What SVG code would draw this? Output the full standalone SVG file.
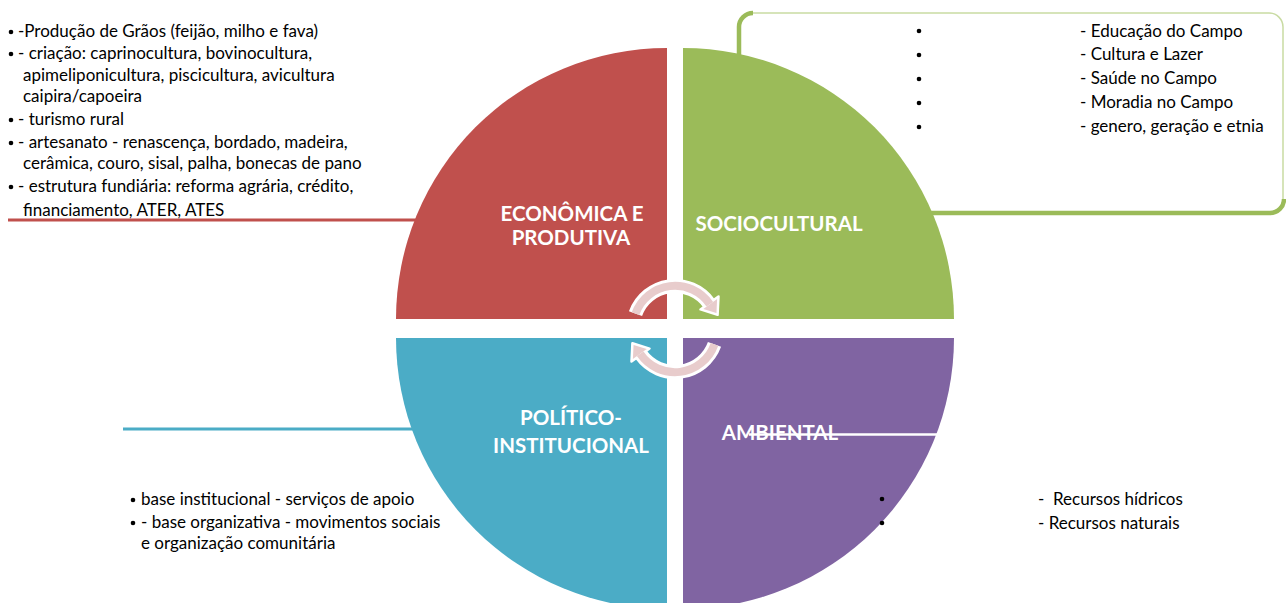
<svg xmlns="http://www.w3.org/2000/svg" width="1286" height="603" viewBox="0 0 1286 603">
<style>
.t{font-family:Lato,"Liberation Sans",sans-serif;font-size:17px;fill:#000}
.lbl{font-family:Lato,"Liberation Sans",sans-serif;font-size:20.5px;font-weight:bold;fill:#fff}
.dot{fill:#000}
</style>
<rect width="1286" height="603" fill="#fff"/>
<g id="connectors">
<line x1="8" y1="220" x2="420" y2="220" stroke="#C0504D" stroke-width="3"/>
<line x1="123" y1="429" x2="420" y2="429" stroke="#4BACC6" stroke-width="3"/>
<rect x="739" y="13" width="544" height="200" rx="14" fill="none" stroke="#C9DBA3" stroke-width="1.5"/>
<path d="M739 60 L739 27 A14 14 0 0 1 753 13" fill="none" stroke="#9BBB59" stroke-width="4.5"/>
<path d="M920 213 L1270 213 A14 14 0 0 0 1284 199" fill="none" stroke="#9BBB59" stroke-width="4.5"/>
</g>
<g id="economica">
<path d="M667 319 L396 319 A271 271 0 0 1 667 48 Z" fill="#C0504D"/>
<text class="lbl" x="572" y="221" text-anchor="middle">ECONÔMICA E</text>
<text class="lbl" x="571" y="245" text-anchor="middle">PRODUTIVA</text>
</g>
<g id="sociocultural">
<path d="M683 319 L683 48 A271 271 0 0 1 954 319 Z" fill="#9BBB59"/>
<text class="lbl" x="779" y="231" text-anchor="middle">SOCIOCULTURAL</text>
</g>
<g id="politico">
<path d="M667 338 L667 609 A271 271 0 0 1 396 338 Z" fill="#4BACC6"/>
<text class="lbl" x="571" y="425" text-anchor="middle">POLÍTICO-</text>
<text class="lbl" x="571" y="453" text-anchor="middle">INSTITUCIONAL</text>
</g>
<g id="ambiental">
<path d="M683 338 L954 338 A271 271 0 0 1 683 609 Z" fill="#8064A2"/>
<text class="lbl" x="780" y="440" text-anchor="middle">AMBIENTAL</text>
<line x1="749" y1="434.5" x2="940" y2="434.5" stroke="#fff" stroke-width="2.5"/>
</g>
<g id="cycle-arrows">
<g id="arrow-top">
<path d="M635.5 313.6 A42 42 0 0 1 709 303.3" fill="none" stroke="#fff" stroke-width="14"/>
<polygon points="718.5,296.4 700.5,309.4 717.6,314.8" fill="#E8CCCC" stroke="#fff" stroke-width="2.5" stroke-linejoin="round"/>
<path d="M635.5 313.6 A42 42 0 0 1 709.8 304.2" fill="none" stroke="#E8CCCC" stroke-width="8"/>
</g>
<g id="arrow-bottom" transform="rotate(180 675 329)">
<path d="M635.5 313.6 A42 42 0 0 1 709 303.3" fill="none" stroke="#fff" stroke-width="14"/>
<polygon points="718.5,296.4 700.5,309.4 717.6,314.8" fill="#E8CCCC" stroke="#fff" stroke-width="2.5" stroke-linejoin="round"/>
<path d="M635.5 313.6 A42 42 0 0 1 709.8 304.2" fill="none" stroke="#E8CCCC" stroke-width="8"/>
</g>
</g>
<g id="text-economica">
<circle class="dot" cx="11" cy="32" r="2.3"/>
<text class="t" x="18" y="37">-Produção de Grãos (feijão, milho e fava)</text>
<circle class="dot" cx="11" cy="54" r="2.3"/>
<text class="t" x="18" y="59">- criação: caprinocultura, bovinocultura,</text>
<text class="t" x="23" y="81">apimeliponicultura, piscicultura, avicultura</text>
<text class="t" x="23" y="102">caipira/capoeira</text>
<circle class="dot" cx="11" cy="120" r="2.3"/>
<text class="t" x="18" y="125">- turismo rural</text>
<circle class="dot" cx="11" cy="143" r="2.3"/>
<text class="t" x="18" y="148">- artesanato - renascença, bordado, madeira,</text>
<text class="t" x="23" y="169">cerâmica, couro, sisal, palha, bonecas de pano</text>
<circle class="dot" cx="11" cy="187" r="2.3"/>
<text class="t" x="18" y="192">- estrutura fundiária: reforma agrária, crédito,</text>
<text class="t" x="23" y="216">financiamento, ATER, ATES</text>
</g>
<g id="text-sociocultural">
<circle class="dot" cx="919" cy="31" r="2.3"/>
<text class="t" x="1080" y="37">- Educação do Campo</text>
<circle class="dot" cx="919" cy="55" r="2.3"/>
<text class="t" x="1080" y="60">- Cultura e Lazer</text>
<circle class="dot" cx="919" cy="79" r="2.3"/>
<text class="t" x="1080" y="84">- Saúde no Campo</text>
<circle class="dot" cx="919" cy="103" r="2.3"/>
<text class="t" x="1080" y="108">- Moradia no Campo</text>
<circle class="dot" cx="919" cy="127" r="2.3"/>
<text class="t" x="1080" y="132">- genero, geração e etnia</text>
</g>
<g id="text-politico">
<circle class="dot" cx="133" cy="500" r="2.3"/>
<text class="t" x="141" y="505">base institucional - serviços de apoio</text>
<circle class="dot" cx="133" cy="523" r="2.3"/>
<text class="t" x="141" y="528">- base organizativa - movimentos sociais</text>
<text class="t" x="141" y="549">e organização comunitária</text>
</g>
<g id="text-ambiental">
<circle class="dot" cx="882" cy="499" r="2.3"/>
<text class="t" x="1038" y="505" xml:space="preserve">-  Recursos hídricos</text>
<circle class="dot" cx="882" cy="523" r="2.3"/>
<text class="t" x="1038" y="529">- Recursos naturais</text>
</g>
</svg>
